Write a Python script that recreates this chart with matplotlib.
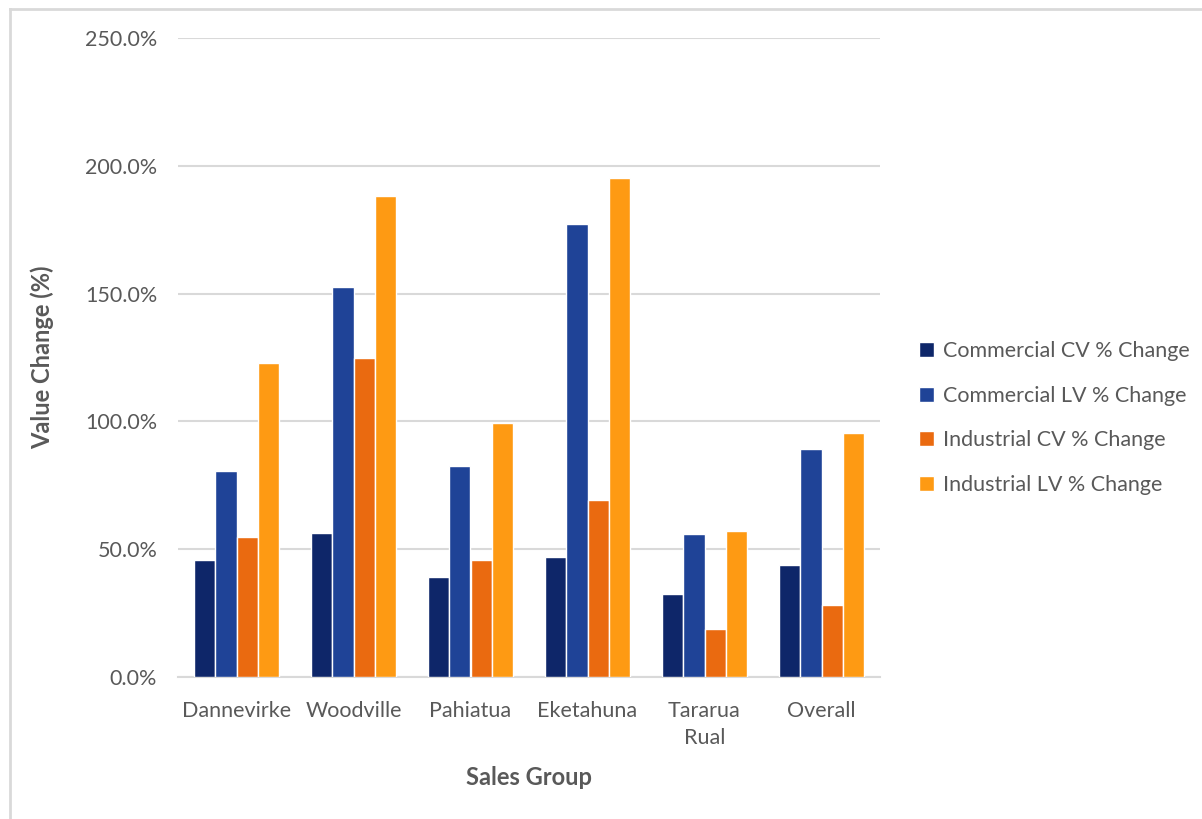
import matplotlib.pyplot as plt
import numpy as np
from matplotlib.lines import Line2D
from matplotlib.ticker import PercentFormatter

plt.rcParams['font.family'] = ['Lato', 'DejaVu Sans']

groups = ["Dannevirke", "Woodville", "Pahiatua", "Eketahuna", "Tararua\nRual", "Overall"]
series_names = ["Commercial CV % Change", "Commercial LV % Change",
                "Industrial CV % Change", "Industrial LV % Change"]
commercial_cv = [45.7, 56.5, 39.3, 46.9, 32.4, 43.9]
commercial_lv = [80.7, 152.4, 82.7, 177.3, 56.1, 89.2]
industrial_cv = [54.9, 124.9, 45.8, 69.1, 18.8, 28.2]
industrial_lv = [122.8, 188.2, 99.2, 195.3, 57.0, 95.3]
colors = ["#0E2669", "#1F4397", "#EA6A10", "#FE9A13"]

W, H = 1202, 819
fig = plt.figure(figsize=(W / 100, H / 100), dpi=100)
ax = fig.add_axes([178 / W, 1 - 677 / H, (880 - 178) / W, (677 - 38) / H])

# chart frame (top and left edges visible)
fig.add_artist(Line2D([10 / W, 10 / W], [0, 1 - 9 / H], transform=fig.transFigure,
                      color="#D9D9D9", lw=2))
fig.add_artist(Line2D([10 / W, 1], [1 - 9 / H, 1 - 9 / H], transform=fig.transFigure,
                      color="#D9D9D9", lw=2))

x = np.arange(len(groups))
step = 0.18
all_series = [commercial_cv, commercial_lv, industrial_cv, industrial_lv]
for i, (vals, name, c) in enumerate(zip(all_series, series_names, colors)):
    ax.bar(x + (i - 1.5) * step, vals, width=step, color=c, edgecolor="white",
           linewidth=1.0, label=name, zorder=3)

ax.set_xlim(-0.5, len(groups) - 0.5)
ax.set_ylim(0, 250)
ax.set_yticks(np.arange(0, 251, 50))
ax.yaxis.set_major_formatter(PercentFormatter(decimals=1))
ax.set_xticks(x)
ax.set_xticklabels(groups, linespacing=1.45)

ax.grid(axis="y", color="#D9D9D9", lw=1.5, zorder=0)
for s in ["top", "right", "left"]:
    ax.spines[s].set_visible(False)
ax.spines["bottom"].set_color("#D9D9D9")
ax.spines["bottom"].set_linewidth(1.5)
ax.tick_params(axis="both", length=0, colors="#595959", labelsize=15.5)
ax.tick_params(axis="y", pad=15)
ax.tick_params(axis="x", pad=17)

ax.set_xlabel("Sales Group", fontsize=17, fontweight="bold", color="#595959", labelpad=13)
ax.set_ylabel("Value Change (%)", fontsize=17, fontweight="bold", color="#595959", labelpad=22)

fig.legend(loc="center left", bbox_to_anchor=(900 / W, 1 - 418 / H), frameon=False,
           fontsize=15.5, labelcolor="#595959", handlelength=0.7, handleheight=0.7,
           handletextpad=0.4, labelspacing=1.15)

fig.savefig("out.png", dpi=100)
